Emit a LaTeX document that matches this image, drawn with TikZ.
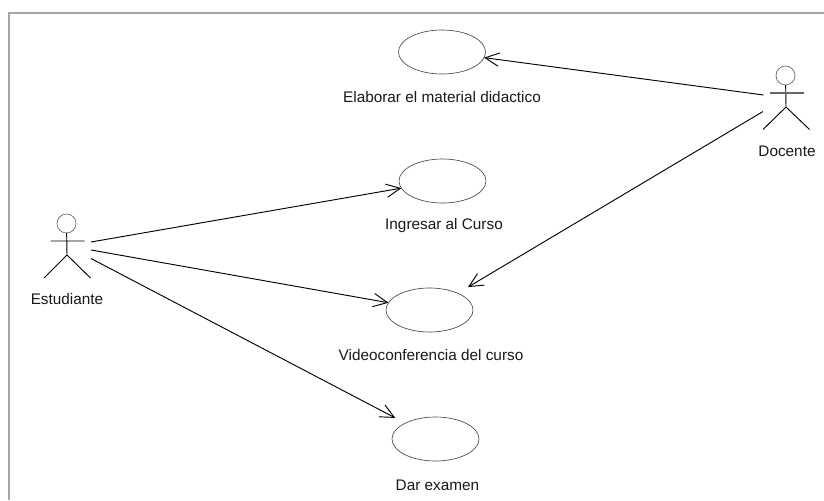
\documentclass[tikz,border=0pt]{standalone}
\usepackage{fontspec}
\setmainfont{Liberation Sans}
\usetikzlibrary{arrows.meta,shapes.geometric}
\tikzset{
  x=0.75pt,y=-0.75pt,
  usecase/.style={draw=black!70,line width=0.5pt,ellipse,minimum width=65.25pt,minimum height=33pt,inner sep=0pt,outer sep=0pt},
  lbl/.style={font=\fontsize{11.5pt}{13pt}\selectfont,text=black!90,inner sep=0pt,anchor=center},
  link/.style={draw=black,line width=0.7pt,-{Straight Barb[length=10.5pt,width=10pt,line width=0.7pt]}},
  limb/.style={draw=black,line width=0.7pt},
  headc/.style={circle,draw=black!60,line width=0.5pt,minimum size=14.25pt,inner sep=0pt,outer sep=0pt},
}
\begin{document}
\begin{tikzpicture}
\useasboundingbox (0,0) rectangle (824,500);
\fill[white] (0,0) rectangle (824,500);
\draw[black!35,line width=1.5pt] (8.7,500) -- (8.7,13) -- (824,13);
% use cases
\node[usecase] (elab) at (442,52) {};
\node[usecase] (ingr) at (442.5,181) {};
\node[usecase] (video) at (429.5,310) {};
\node[usecase] (dar) at (435.5,439) {};
\node[lbl] (elabt) at (442,97) {Elaborar el material didactico};
\node[lbl] (ingrt) at (444,226) {Ingresar al Curso};
\node[lbl] (videot) at (431,355.5) {Videoconferencia del curso};
\node[lbl] (dart) at (437.5,485) {Dar examen};
% Estudiante
\node[headc] (eh) at (66.5,223.5) {};
\coordinate (en) at (67,255);
\coordinate (eal) at (50.5,241);
\coordinate (ear) at (84.5,241);
\coordinate (efl) at (44,278);
\coordinate (efr) at (90.5,278);
\draw[limb] (eh) -- (en) (eal) -- (ear) (efl) -- (en) -- (efr);
\node[lbl] (et) at (67,299) {Estudiante};
\coordinate (es1) at (91,242);
\coordinate (es2) at (91,250);
\coordinate (es3) at (91,258.5);
% Docente
\node[headc] (dh) at (785.5,75.5) {};
\coordinate (dn) at (786,107);
\coordinate (dal) at (769.5,93);
\coordinate (dar2) at (803.5,93);
\coordinate (dfl) at (763,129.5);
\coordinate (dfr) at (809.5,129.5);
\draw[limb] (dh) -- (dn) (dfl) -- (dn) -- (dfr);
\draw[black!60,line width=1.1pt] (dal) -- (dar2);
\node[lbl] (dt) at (787,151) {Docente};
\coordinate (ds1) at (763.5,95);
\coordinate (ds2) at (763,111.5);
% connectors
\draw[link] (ds1) -- (elab);
\draw[link,shorten >=9pt] (ds2) -- (video);
\draw[link] (es1) -- (ingr);
\draw[link] (es2) -- (video);
\draw[link,shorten >=8.5pt] (es3) -- (dar);
\end{tikzpicture}
\end{document}
